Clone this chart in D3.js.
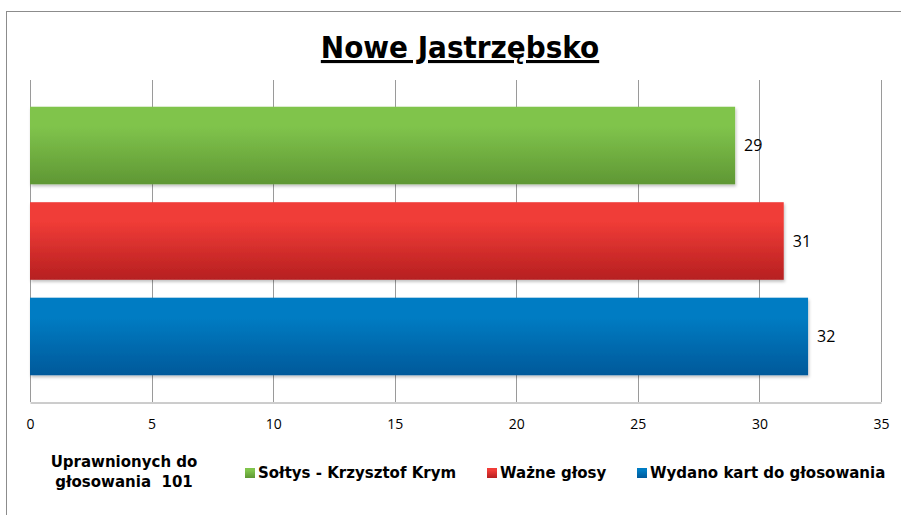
<!DOCTYPE html>
<html>
<head>
<meta charset="utf-8">
<script src="https://cdn.jsdelivr.net/npm/d3@7"></script>
<style>
  body { margin: 0; background: #fff; }
  svg { display: block; }
</style>
</head>
<body>
<svg id="chart" width="901" height="515"></svg>
<script>
// dane z wykresu
const categories = ["Sołtys - Krzysztof Krym", "Ważne głosy", "Wydano kart do głosowania"];
const values = [29, 31, 32];
const ticks = [0, 5, 10, 15, 20, 25, 30, 35];
const colors = [
    ["#80c44c", "#5f9734"],
    ["#f03c37", "#b61f20"],
    ["#007cc3", "#00599a"]
];
const title = "Nowe Jastrzębsko";
const noteLines = ["Uprawnionych do", "głosowania  101"];

const svg = d3.select("#chart");
const plot = {left: 30, right: 881, top: 80, bottom: 402};

// ramka wykresu
svg.append("rect")
    .attr("x", 6.5).attr("y", 11.5)
    .attr("width", 1000).attr("height", 1000)
    .attr("fill", "#fff")
    .attr("stroke", "#8c8c8c");

let defs = svg.append("defs");
colors.forEach((c, i) => {
    let g = defs.append("linearGradient")
        .attr("id", "grad" + i)
        .attr("x1", 0).attr("y1", 0).attr("x2", 0).attr("y2", 1);
    g.append("stop").attr("offset", "0%").attr("stop-color", c[0]);
    g.append("stop").attr("offset", "25%").attr("stop-color", c[0]);
    g.append("stop").attr("offset", "100%").attr("stop-color", c[1]);
});
let shadow = defs.append("filter").attr("id", "shadow")
    .attr("x", "-5%").attr("y", "-10%").attr("width", "110%").attr("height", "130%");
shadow.append("feDropShadow")
    .attr("dx", 1).attr("dy", 2).attr("stdDeviation", 1.5)
    .attr("flood-color", "#000").attr("flood-opacity", 0.25);

const x = d3.scaleLinear().domain([0, 35]).range([plot.left, plot.right]);
const y = d3.scaleBand().domain(categories).range([plot.top, plot.bottom])
    .paddingInner(0.1875).paddingOuter(0.28);

// siatka
svg.append("g")
    .selectAll("line")
    .data(ticks)
    .enter()
    .append("line")
    .attr("x1", d => Math.round(x(d)) + 0.5)
    .attr("x2", d => Math.round(x(d)) + 0.5)
    .attr("y1", plot.top)
    .attr("y2", plot.bottom)
    .attr("stroke", "#9a9a9a")
    .attr("stroke-width", 1);

// oś X
let xAxis = svg.append("g")
    .attr("transform", `translate(0,${plot.bottom + 0.5})`)
    .call(d3.axisBottom(x).tickValues(ticks).tickSize(0).tickPadding(17));
xAxis.select(".domain").attr("stroke", "#9a9a9a");
xAxis.selectAll("text")
    .attr("font-family", "'Open Sans', sans-serif")
    .attr("font-size", 14)
    .attr("fill", "#000");

// słupki
svg.append("g")
    .selectAll("rect")
    .data(values)
    .enter()
    .append("rect")
    .attr("x", x(0))
    .attr("y", (d, i) => y(categories[i]))
    .attr("width", d => x(d) - x(0))
    .attr("height", y.bandwidth())
    .attr("fill", (d, i) => `url(#grad${i})`)
    .attr("filter", "url(#shadow)");

// etykiety wartości
svg.append("g")
    .selectAll("text")
    .data(values)
    .enter()
    .append("text")
    .attr("x", d => x(d) + 9)
    .attr("y", (d, i) => y(categories[i]) + y.bandwidth() / 2)
    .attr("dy", "0.35em")
    .attr("font-family", "'Open Sans', sans-serif")
    .attr("font-size", 16)
    .text(d => d);

// tytuł
svg.append("text")
    .attr("x", 460)
    .attr("y", 58)
    .attr("text-anchor", "middle")
    .attr("font-family", "'DejaVu Sans Condensed', 'DejaVu Sans', sans-serif")
    .attr("font-weight", "bold")
    .attr("font-size", 31)
    .attr("text-decoration", "underline")
    .text(title);

// opis po lewej
svg.append("g")
    .selectAll("text")
    .data(noteLines)
    .enter()
    .append("text")
    .attr("x", 124)
    .attr("y", (d, i) => 467 + i * 20)
    .attr("text-anchor", "middle")
    .attr("font-family", "'DejaVu Sans', sans-serif")
    .attr("font-weight", "bold")
    .attr("font-size", 15)
    .style("white-space", "pre")
    .text(d => d);

// legenda
const legendX = [245, 487, 637];
let legend = svg.append("g")
    .selectAll("g")
    .data(categories)
    .enter()
    .append("g")
    .attr("transform", (d, i) => `translate(${legendX[i]},478)`);
legend.append("rect")
    .attr("x", 0).attr("y", -10)
    .attr("width", 10).attr("height", 10)
    .attr("fill", (d, i) => `url(#grad${i})`);
legend.append("text")
    .attr("x", 13)
    .attr("y", 0)
    .attr("font-family", "'DejaVu Sans', sans-serif")
    .attr("font-weight", "bold")
    .attr("font-size", 15)
    .text(d => d);
</script>
</body>
</html>
